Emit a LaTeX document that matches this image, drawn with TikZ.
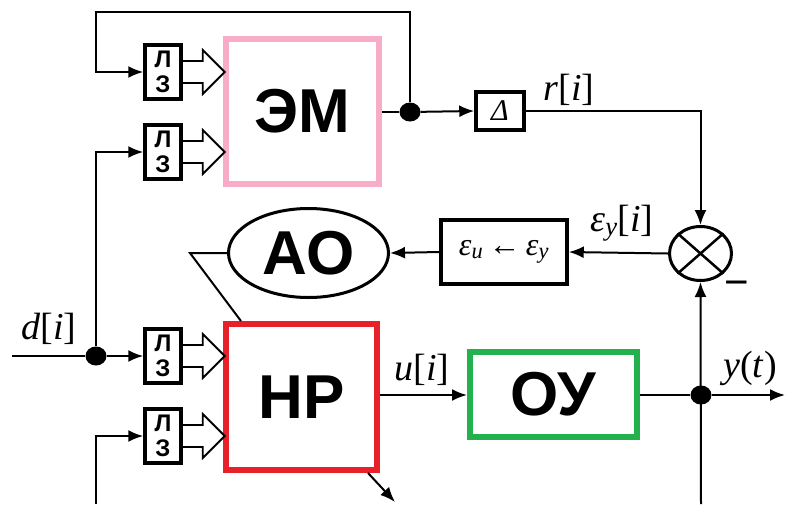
\documentclass[tikz,border=0pt]{standalone}
\usepackage{fontspec}
\setmainfont{Liberation Serif}
\setsansfont{Liberation Sans}
\usetikzlibrary{arrows.meta,shapes.geometric,calc}
\definecolor{empink}{RGB}{248,172,200}
\definecolor{hpred}{RGB}{232,32,42}
\definecolor{ougreen}{RGB}{34,177,76}
\begin{document}
\begin{tikzpicture}[x=1pt,y=-1pt,
  conn/.style={line width=2pt},
  arr/.style={conn,-{Latex[length=15pt,width=12pt]}},
  lzbox/.style={draw,line width=3.5pt,minimum width=36pt,minimum height=54pt,inner sep=0,align=center,
     font=\fontsize{24}{25}\selectfont\sffamily\bfseries},
  bigtext/.style={font=\fontsize{62}{62}\selectfont\sffamily\bfseries},
  bigbox/.style={draw,line width=6pt,inner sep=0,bigtext},
  smallbox/.style={draw,line width=3.5pt,inner sep=0},
  lab/.style={font=\fontsize{38}{40}\selectfont,inner sep=0},
  dot/.style={ellipse,fill,inner sep=0,minimum width=21pt,minimum height=19pt},
  hollow/.style={line width=1.8pt,line join=miter}
]
\useasboundingbox (0,0) rectangle (785,504);

% blocks
\node[bigbox,draw=empink,minimum width=153pt,minimum height=145pt] (em) at (302.5,111.5) {ЭМ};
\node[bigbox,draw=hpred,minimum width=151pt,minimum height=146pt] (hp) at (301.5,397) {НР};
\node[bigbox,draw=ougreen,minimum width=167pt,minimum height=85pt] (ou) at (553.5,394.5) {ОУ};
\node[ellipse,draw,line width=3pt,inner sep=0,minimum width=160pt,minimum height=89pt,bigtext] (ao) at (308.5,253) {АО};
\node[smallbox,minimum width=126pt,minimum height=64pt,font=\fontsize{32}{34}\selectfont] (eps) at (504,252)
  {\textit{ε}\textsubscript{\textit{u}}\,←\,\textit{ε}\textsubscript{\textit{y}}};
\node[smallbox,minimum width=48pt,minimum height=38pt,font=\fontsize{30}{30}\selectfont] (delta) at (500,111) {\textit{Δ}};
\node[ellipse,draw,line width=3pt,inner sep=0,minimum width=62pt,minimum height=54pt] (mult) at (700.5,253.5) {};
\draw[line width=2.5pt] (mult.north west) -- (mult.south east) (mult.north east) -- (mult.south west);

\node[lzbox] (lz1) at (163,72) {Л\\З};
\node[lzbox] (lz2) at (163,152) {Л\\З};
\node[lzbox] (lz3) at (163,356) {Л\\З};
\node[lzbox] (lz4) at (163,436) {Л\\З};

% hollow arrows
\foreach \n in {lz1,lz2,lz3,lz4}{
  \draw[hollow] ($(\n.east)+(0,-11)$) -- ++(20,0) -- ++(0,-11) -- ($(\n.east)+(42,0)$)
     -- ($(\n.east)+(20,22)$) -- ++(0,-11) -- ($(\n.east)+(0,11)$);
}

% junction dots
\node[dot] (j1) at (410,112) {};
\node[dot] (jd) at (96,356) {};
\node[dot] (jy) at (701,395) {};

% coordinates
\coordinate (tr) at (410,12);
\coordinate (tl) at (96,12);
\coordinate (din) at (12,356);
\coordinate (bl) at (96,504);
\coordinate (v) at (190,253);
\coordinate (yout) at (785,395);
\coordinate (br) at (701,504);
\coordinate (hpo) at (395,502);

% connectors
\draw[arr] (j1) -- (tr) -- (tl) |- (lz1.west);
\draw[conn] (em.east |- j1) -- (j1);
\draw[arr] (j1) -- (delta.west);
\draw[arr] (delta.east) -| (mult.north);
\draw[arr] (mult.west) -- (eps.east);
\draw[arr] (eps.west) -- (ao.east);
\draw[conn] (ao.west) -- (v) -- ($(hp.north west)+(18,0)$);
\draw[conn] (din) -- (jd);
\draw[arr] (jd) -- (lz3.west);
\draw[arr] (jd) |- (lz2.west);
\draw[arr] (bl) |- (lz4.west);
\draw[arr] (hp.east |- jy) -- (ou.west |- jy);
\draw[conn] (ou.east |- jy) -- (jy);
\draw[arr] (jy) -- (yout);
\draw[arr] (br) -- (mult.south);
\draw[arr] ($(hp.south east)+(-12,0)$) -- (hpo);

% labels
\node[lab] (lr) at (569,90) {\textit{r}[\textit{i}]};
\node[lab] (ley) at (622,223) {\textit{ε}\textsubscript{\textit{y}}[\textit{i}]};
\node[lab] (ld) at (49,329) {\textit{d}[\textit{i}]};
\node[lab] (lu) at (422,370) {\textit{u}[\textit{i}]};
\node[lab] (lyt) at (750,368) {\textit{y}(\textit{t})};
\node[inner sep=0,font=\fontsize{42}{42}\selectfont\sffamily] (minus) at (737,289) {−};
\end{tikzpicture}
\end{document}
